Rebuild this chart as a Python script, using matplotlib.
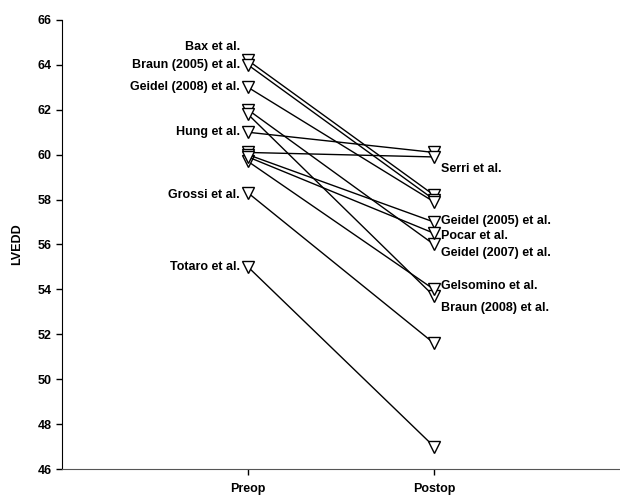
"""
LVEDD before / after surgery, one line per study
"""
import matplotlib
matplotlib.use('Agg')
import matplotlib.pyplot as plt

# data
groups = ['Preop', 'Postop']
studies = ['Bax et al.', 'Braun (2005) et al.', 'Geidel (2008) et al.',
           'Hung et al.', 'Serri et al.', 'Geidel (2007) et al.',
           'Braun (2008) et al.', 'Gelsomino et al.', 'Geidel (2005) et al.',
           'Pocar et al.', 'Grossi et al.', 'Totaro et al.']
preop = [64.2, 64.0, 63.0, 61.0, 60.1, 62.0, 61.8, 59.7, 60.0, 59.9, 58.3, 55.0]
postop = [58.2, 58.0, 57.9, 60.1, 59.9, 56.0, 53.7, 54.0, 57.0, 56.5, 51.6, 47.0]
y_ticks = [46, 48, 50, 52, 54, 56, 58, 60, 62, 64, 66]

# label side and small vertical nudge (data units) so names don't overlap
left_labels = {'Bax et al.': 0.6, 'Braun (2005) et al.': 0.0,
               'Geidel (2008) et al.': 0.0, 'Hung et al.': 0.0,
               'Grossi et al.': -0.1, 'Totaro et al.': 0.0}
right_labels = {'Serri et al.': -0.55, 'Geidel (2005) et al.': 0.05,
                'Pocar et al.': -0.1, 'Geidel (2007) et al.': -0.4,
                'Gelsomino et al.': 0.15, 'Braun (2008) et al.': -0.55}

plt.rcParams['font.family'] = ['Liberation Sans', 'DejaVu Sans']
plt.rcParams['font.weight'] = 'bold'

fig = plt.figure(figsize=(6.2, 5.0), dpi=100)
ax = fig.add_axes([0.1, 0.062, 0.9, 0.898])

xs = [1, 2]
for name, a, b in zip(studies, preop, postop):
    ax.plot(xs, [a, b], color='black', lw=1, marker='v', markersize=8,
            markerfacecolor='white', markeredgecolor='black',
            markeredgewidth=1, zorder=3)
    if name in left_labels:
        ax.annotate(name, (1, a + left_labels[name]), xytext=(-6, 0),
                    textcoords='offset points', ha='right', va='center',
                    fontsize=9, fontweight='bold')
    else:
        ax.annotate(name, (2, b + right_labels[name]), xytext=(5, 0),
                    textcoords='offset points', ha='left', va='center',
                    fontsize=9, fontweight='bold')

ax.set_xlim(0, 3)
ax.set_ylim(46, 66)
ax.set_xticks(xs)
ax.set_xticklabels(groups, fontsize=9, fontweight='bold')
ax.set_yticks(y_ticks)
ax.set_yticklabels([str(t) for t in y_ticks], fontsize=9, fontweight='bold')
ax.set_ylabel('LVEDD', fontsize=9, fontweight='bold', labelpad=10)

ax.spines['top'].set_visible(False)
ax.spines['right'].set_visible(False)
ax.spines['bottom'].set_color('#555555')
ax.tick_params(axis='both', direction='out', length=4, width=1)
ax.tick_params(axis='x', pad=6)

fig.savefig('out.png', dpi=100)
